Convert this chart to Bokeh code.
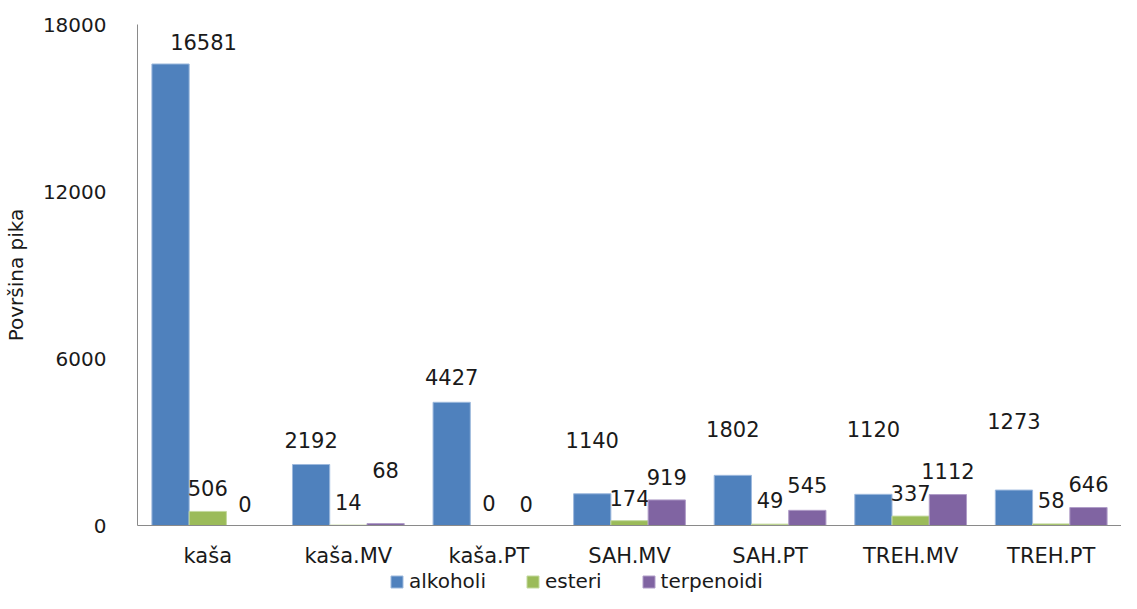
from bokeh.plotting import figure
from bokeh.layouts import column
from bokeh.models import ColumnDataSource, FactorRange, Range1d, FixedTicker, Legend, LegendItem
from bokeh.transform import dodge
from bokeh.core.properties import value
from bokeh.embed import file_html
from bokeh.resources import INLINE

# ---- data ----
categories = ["kaša", "kaša.MV", "kaša.PT", "SAH.MV", "SAH.PT", "TREH.MV", "TREH.PT"]
alkoholi = [16581, 2192, 4427, 1140, 1802, 1120, 1273]
esteri = [506, 14, 0, 174, 49, 337, 58]
terpenoidi = [0, 68, 0, 919, 545, 1112, 646]
series_names = ["alkoholi", "esteri", "terpenoidi"]
y_ticks = [0, 6000, 12000, 18000]

# ---- label placement (screen px above the bar top / sideways shift) ----
lift_alk = [22, 24, 25, 54, 46, 65, 69]
lift_est = [23, 23, 23, 23, 24, 23, 24]
lift_ter = [22, 54, 22, 23, 25, 24, 24]
shift_alk = [33, 0, 0, 0, 0, 0, 0]
zeros = [0] * 7

colors = ["#4F81BD", "#9BBB59", "#8064A2"]
edges = ["#9DB9DD", "#C3D99E", "#B09DC8"]
FONT = "DejaVu Sans"

p = figure(width=1121, height=570, x_range=FactorRange(*categories),
           y_range=Range1d(0, 18000), output_backend="svg", toolbar_location=None,
           min_border_left=135, min_border_right=0, min_border_top=24,
           min_border_bottom=45)
p.outline_line_color = None
p.grid.visible = False
p.background_fill_color = "white"

bw = 0.265
offs = [-bw, 0.0, bw]
for name, vals, lift, shift, col, edge, off in zip(
        series_names, [alkoholi, esteri, terpenoidi], [lift_alk, lift_est, lift_ter],
        [shift_alk, zeros, zeros], colors, edges, offs):
    src = ColumnDataSource(dict(cat=categories, val=vals,
                                txt=[str(v) for v in vals],
                                dy=[-l for l in lift], dx=shift))
    p.vbar(x=dodge("cat", off, range=p.x_range), top="val", width=bw, source=src,
           fill_color=col, line_color=edge, line_width=1)
    p.text(x=dodge("cat", off, range=p.x_range), y="val", text="txt", source=src,
           x_offset="dx", y_offset="dy", text_align="center", text_baseline="middle",
           text_font=value(FONT), text_font_size="21px", text_color="#1a1a1a")

# axes
p.yaxis.ticker = FixedTicker(ticks=y_ticks)
p.yaxis.major_tick_line_color = None
p.yaxis.minor_tick_line_color = None
p.yaxis.axis_line_color = "#8a8a8a"
p.yaxis.major_label_standoff = 25
p.yaxis.major_label_text_font = FONT
p.yaxis.major_label_text_font_size = "20px"
p.yaxis.major_label_text_color = "#1a1a1a"
p.yaxis.axis_label = "Površina pika"
p.yaxis.axis_label_text_font = FONT
p.yaxis.axis_label_text_font_size = "20px"
p.yaxis.axis_label_text_font_style = "normal"
p.yaxis.axis_label_text_color = "#1a1a1a"
p.yaxis.axis_label_standoff = 12

p.xaxis.major_tick_line_color = None
p.xaxis.minor_tick_line_color = None
p.xaxis.axis_line_color = "#8a8a8a"
p.xaxis.major_label_standoff = 12
p.xaxis.major_label_text_font = FONT
p.xaxis.major_label_text_font_size = "21px"
p.xaxis.major_label_text_color = "#1a1a1a"

# ---- legend strip below the chart ----
lg = figure(width=1121, height=23, x_range=Range1d(0, 1), y_range=Range1d(0, 1),
            output_backend="svg", toolbar_location=None, min_border=0,
            min_border_left=0, min_border_right=0, min_border_top=0, min_border_bottom=0)
lg.axis.visible = False
lg.grid.visible = False
lg.outline_line_color = None
items = []
for name, col, edge in zip(series_names, colors, edges):
    r = lg.vbar(x=[-5], top=[-5], width=0.1, fill_color=col, line_color=edge)
    items.append(LegendItem(label=name, renderers=[r]))
legend = Legend(items=items, orientation="horizontal", location=(252, 0),
                label_text_font=FONT, label_text_font_size="20px",
                label_text_color="#1a1a1a", glyph_width=15, glyph_height=15,
                label_standoff=5, spacing=39, padding=0, margin=0,
                border_line_color=None, background_fill_alpha=0,
                label_height=15)
lg.add_layout(legend, "center")

layout = column(p, lg, spacing=0)
open("out.html", "w").write(file_html(layout, INLINE))
